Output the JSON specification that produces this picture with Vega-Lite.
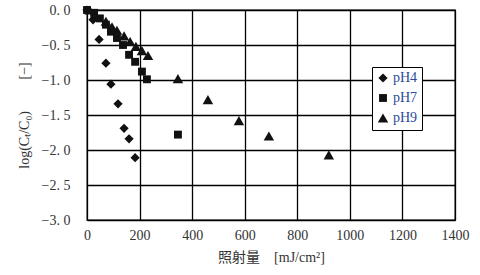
{
  "$schema": "https://vega.github.io/schema/vega-lite/v6.json",
  "width": 368,
  "height": 210,
  "autosize": "none",
  "padding": {"left": 87, "top": 10, "right": 25, "bottom": 55},
  "background": "white",
  "config": {
    "view": {"stroke": "black", "strokeWidth": 1.3},
    "axis": {
      "labelFont": "Liberation Serif",
      "labelFontSize": 14,
      "labelColor": "#333",
      "titleFont": "Liberation Serif, Noto Sans CJK JP",
      "titleFontSize": 14,
      "titleFontWeight": "normal",
      "titleColor": "#333",
      "grid": true,
      "gridColor": "black",
      "gridOpacity": 1,
      "gridWidth": 1.3,
      "domain": false,
      "ticks": false,
      "labelFlush": false
    },
    "legend": {
      "title": null,
      "orient": "none",
      "legendX": 285,
      "legendY": 57,
      "padding": 4,
      "strokeColor": "black",
      "fillColor": "white",
      "labelFont": "Liberation Serif",
      "labelFontSize": 14,
      "labelColor": "#2a4a9a",
      "symbolFillColor": "#111",
      "symbolStrokeColor": "#111",
      "rowPadding": 5,
      "labelOffset": 3
    }
  },
  "data": {
    "values": [
      {"series": "pH4", "x": 0, "y": 0},
      {"series": "pH4", "x": 23, "y": -0.14},
      {"series": "pH4", "x": 46, "y": -0.42},
      {"series": "pH4", "x": 72, "y": -0.76},
      {"series": "pH4", "x": 91, "y": -1.06},
      {"series": "pH4", "x": 118, "y": -1.34},
      {"series": "pH4", "x": 141, "y": -1.69},
      {"series": "pH4", "x": 160, "y": -1.84},
      {"series": "pH4", "x": 183, "y": -2.11},
      {"series": "pH7", "x": 0, "y": 0},
      {"series": "pH7", "x": 27, "y": -0.04},
      {"series": "pH7", "x": 49, "y": -0.12},
      {"series": "pH7", "x": 72, "y": -0.21},
      {"series": "pH7", "x": 91, "y": -0.31},
      {"series": "pH7", "x": 114, "y": -0.4},
      {"series": "pH7", "x": 137, "y": -0.5},
      {"series": "pH7", "x": 160, "y": -0.64},
      {"series": "pH7", "x": 183, "y": -0.74},
      {"series": "pH7", "x": 209, "y": -0.88},
      {"series": "pH7", "x": 228, "y": -0.99},
      {"series": "pH7", "x": 346, "y": -1.78},
      {"series": "pH9", "x": 10, "y": 0},
      {"series": "pH9", "x": 30, "y": -0.06},
      {"series": "pH9", "x": 72, "y": -0.16},
      {"series": "pH9", "x": 95, "y": -0.24},
      {"series": "pH9", "x": 114, "y": -0.29},
      {"series": "pH9", "x": 141, "y": -0.37},
      {"series": "pH9", "x": 164, "y": -0.45},
      {"series": "pH9", "x": 186, "y": -0.52},
      {"series": "pH9", "x": 209, "y": -0.58},
      {"series": "pH9", "x": 232, "y": -0.65},
      {"series": "pH9", "x": 346, "y": -0.98},
      {"series": "pH9", "x": 460, "y": -1.28},
      {"series": "pH9", "x": 578, "y": -1.58},
      {"series": "pH9", "x": 692, "y": -1.8},
      {"series": "pH9", "x": 920, "y": -2.07}
    ]
  },
  "mark": {"type": "point", "filled": true, "opacity": 1, "color": "#111"},
  "encoding": {
    "x": {
      "field": "x", "type": "quantitative",
      "scale": {"domain": [0, 1400], "nice": false},
      "axis": {"values": [0, 200, 400, 600, 800, 1000, 1200, 1400], "format": "d", "labelPadding": 8, "labelDx": -4, "title": "照射量　[mJ/cm²]", "titlePadding": 8}
    },
    "y": {
      "field": "y", "type": "quantitative",
      "scale": {"domain": [-3, 0], "nice": false},
      "axis": {"values": [-3, -2.5, -2, -1.5, -1, -0.5, 0], "labelExpr": "replace(format(datum.value, '.1f'), '.', '. ')", "labelPadding": 17, "title": "log(Cₜ/C₀)　　 [−]", "titlePadding": 10}
    },
    "size": {
      "field": "series", "type": "nominal",
      "scale": {"type": "ordinal", "domain": ["pH4", "pH7", "pH9"], "range": [85, 62, 110]}
    },
    "shape": {
      "field": "series", "type": "nominal",
      "scale": {"domain": ["pH4", "pH7", "pH9"], "range": ["diamond", "square", "triangle-up"]}
    }
  }
}
